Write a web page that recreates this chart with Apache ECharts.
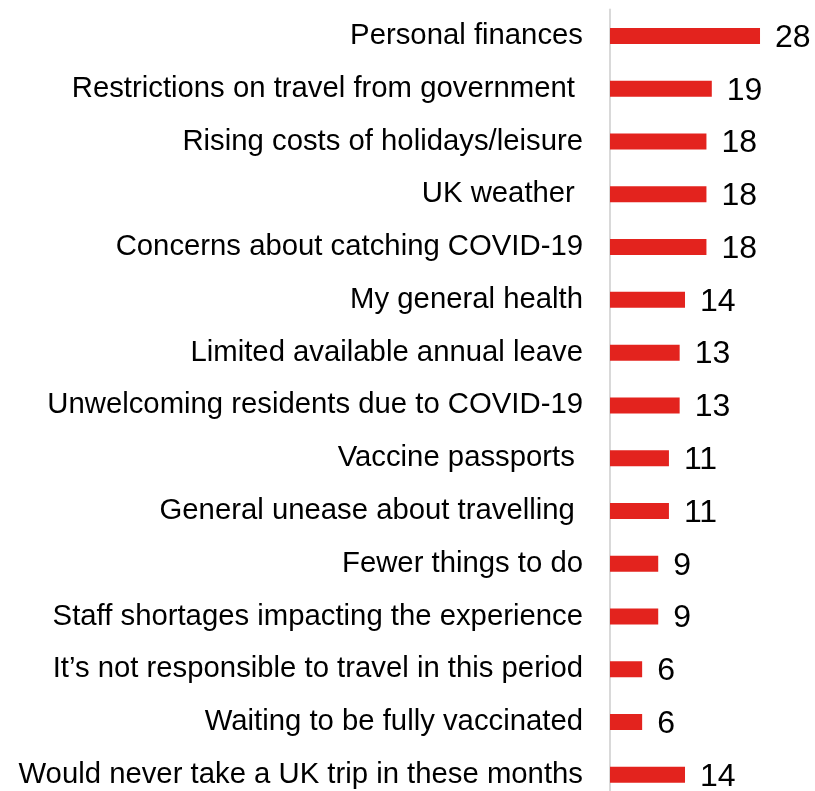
<!DOCTYPE html>
<html>
<head>
<meta charset="utf-8">
<script src="https://cdn.jsdelivr.net/npm/echarts@6/dist/echarts.min.js"></script>
<style>
  html, body { margin: 0; padding: 0; background: #fff; }
  #chart { width: 815px; height: 791px; }
</style>
</head>
<body>
<div id="chart"></div>
<script>
// categories top to bottom
const categories = [
  'Personal finances',
  'Restrictions on travel from government ',
  'Rising costs of holidays/leisure',
  'UK weather ',
  'Concerns about catching COVID-19',
  'My general health',
  'Limited available annual leave',
  'Unwelcoming residents due to COVID-19',
  'Vaccine passports ',
  'General unease about travelling ',
  'Fewer things to do',
  'Staff shortages impacting the experience',
  'It\u2019s not responsible to travel in this period',
  'Waiting to be fully vaccinated',
  'Would never take a UK trip in these months'
];
const values = [28, 19, 18, 18, 18, 14, 13, 13, 11, 11, 9, 9, 6, 6, 14];

const chart = echarts.init(document.getElementById('chart'));

chart.setOption({
  animation: false,
  backgroundColor: '#fff',
  // grid runs a little past the bottom edge, as in the original
  grid: { left: 610, right: 1.4, top: 9.6, height: 791.6, outerBoundsMode: 'none' },
  xAxis: {
    type: 'value',
    min: 0,
    max: 38,
    show: false,
    splitLine: { show: false }
  },
  yAxis: {
    type: 'category',
    inverse: true,
    data: categories,
    axisLine: { show: true, lineStyle: { color: '#d9d9d9', width: 2 } },
    axisTick: { show: false },
    axisLabel: {
      margin: 27,
      color: '#000',
      fontFamily: 'Liberation Sans, Arial, sans-serif',
      fontSize: 29.3
    }
  },
  series: [{
    type: 'bar',
    data: values,
    barWidth: 16,
    itemStyle: { color: '#e3231e' },
    label: {
      show: true,
      position: 'right',
      distance: 15,
      offset: [0, 2],
      color: '#000',
      fontFamily: 'Liberation Sans, Arial, sans-serif',
      fontSize: 32
    }
  }]
});
</script>
</body>
</html>
